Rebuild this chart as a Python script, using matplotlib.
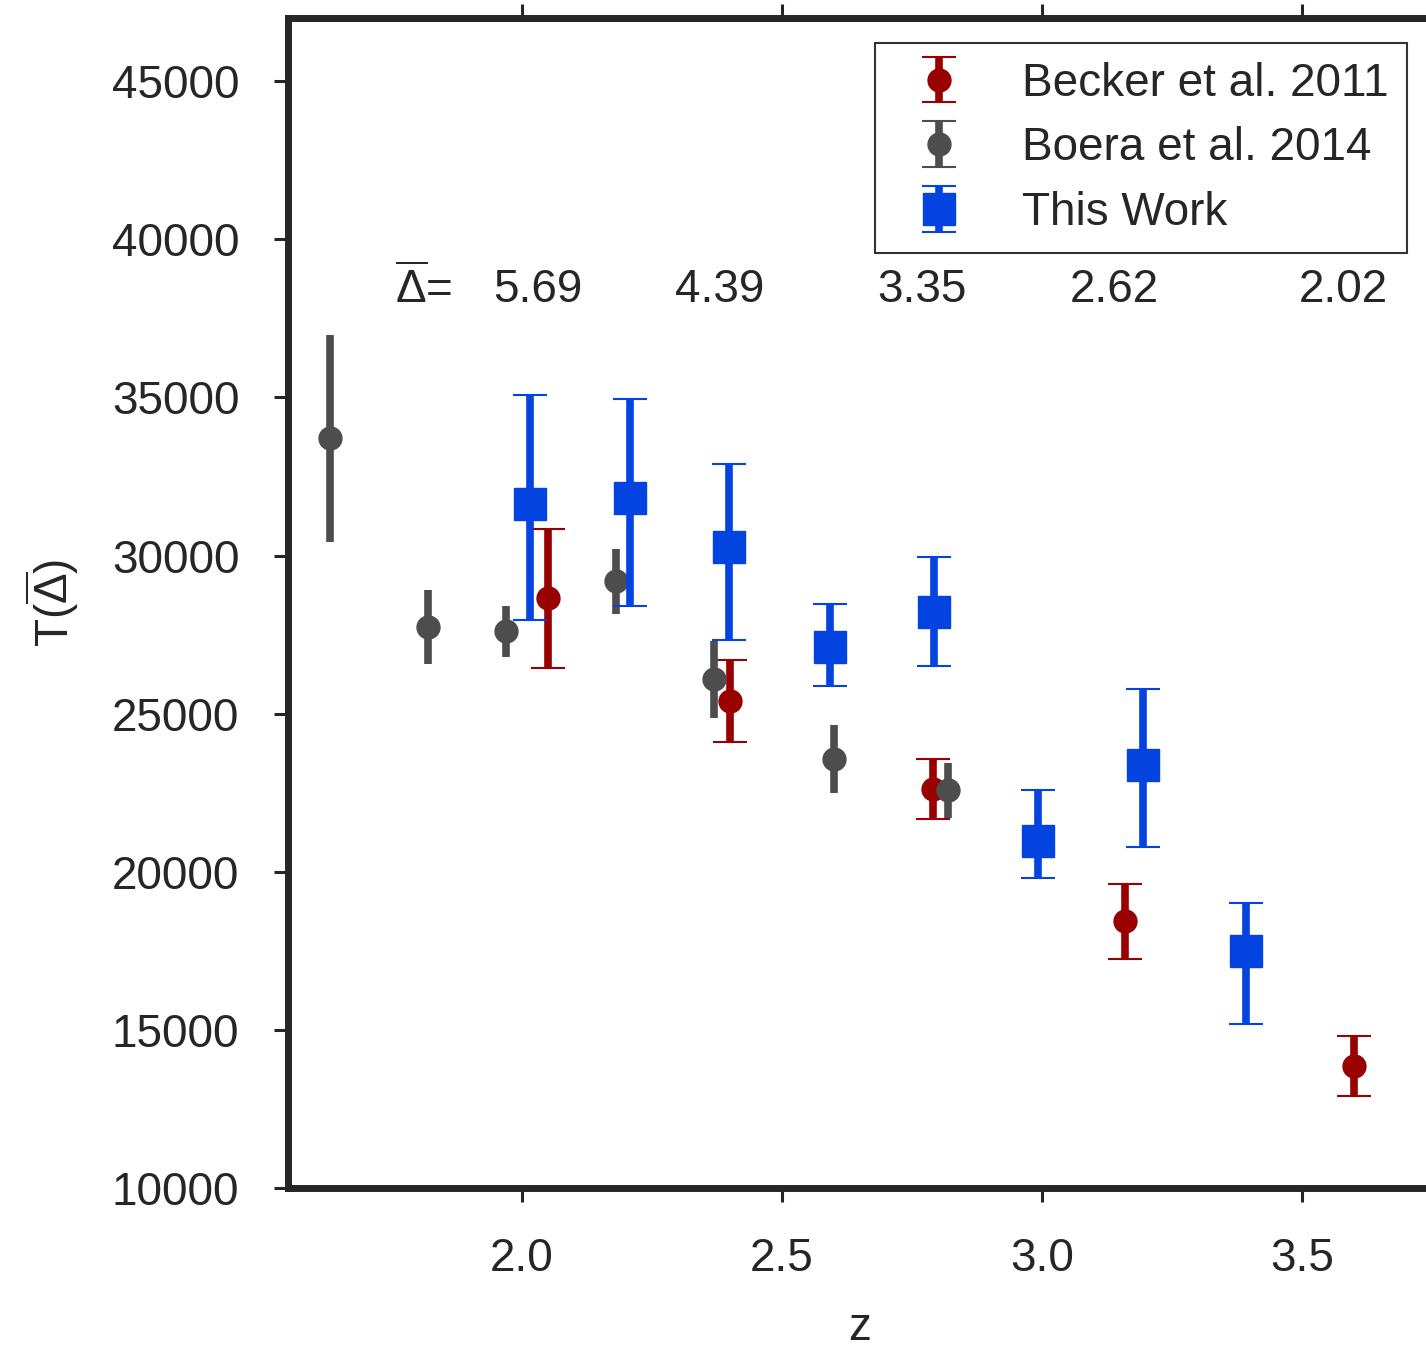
import numpy as np
import matplotlib
matplotlib.use("Agg")
import matplotlib.pyplot as plt

plt.rcParams['font.family'] = ['Liberation Sans', 'DejaVu Sans']
plt.rcParams['mathtext.fontset'] = 'custom'
plt.rcParams['mathtext.rm'] = 'Liberation Sans'
plt.rcParams['mathtext.it'] = 'Liberation Sans:italic'
plt.rcParams['mathtext.bf'] = 'Liberation Sans:bold'

# Becker et al. 2011
becker_z = [2.05, 2.40, 2.79, 3.16, 3.60]
becker_T = [28650, 25400, 22620, 18440, 13860]
becker_err = [2200, 1300, 950, 1185, 950]

# Boera et al. 2014
boera_z = [1.63, 1.82, 1.97, 2.18, 2.37, 2.60, 2.82]
boera_T = [33710, 27740, 27610, 29190, 26090, 23560, 22580]
boera_err = [3270, 1170, 810, 1030, 1220, 1075, 870]

# This work
work_z = [2.015, 2.208, 2.399, 2.593, 2.792, 2.992, 3.195, 3.393]
work_T = [31630, 31820, 30270, 27100, 28210, 20970, 23370, 17490]
work_err_lo = [3670, 3410, 2940, 1230, 1710, 1170, 2590, 2310]
work_err_hi = [3440, 3130, 2620, 1360, 1740, 1610, 2400, 1520]

# mean overdensity of each redshift bin
delta_labels = ['5.69', '4.39', '3.35', '2.62', '2.02']
delta_z = [2.03, 2.38, 2.77, 3.14, 3.58]

RED = '#990000'
GRAY = '#4d4d4d'
BLUE = '#0343df'
INK = '#262626'
FS = 33

fig = plt.figure(figsize=(14.26, 13.47), dpi=100)
ax = fig.add_axes([288 / 1426, 159 / 1347, 1144 / 1426, 1170 / 1347])

ax.errorbar(becker_z, becker_T, yerr=becker_err, fmt='o', color=RED,
            ms=16.5, elinewidth=5.5, capsize=12.5, capthick=1.5,
            label='Becker et al. 2011', zorder=3)
ax.errorbar(boera_z, boera_T, yerr=boera_err, fmt='o', color=GRAY,
            ms=16.5, elinewidth=5.5, capsize=0, zorder=4)
# legend entry for Boera et al. drawn with caps
ax.errorbar([np.nan], [np.nan], yerr=[1.0], fmt='o', color=GRAY,
            ms=16.5, elinewidth=5.5, capsize=12.5, capthick=1.5,
            label='Boera et al. 2014')
ax.errorbar(work_z, work_T, yerr=[work_err_lo, work_err_hi], fmt='s',
            color=BLUE, ms=23.5, elinewidth=5.5, capsize=12.5, capthick=1.5,
            label='This Work', zorder=5)

ax.text(1.81, 38400, r'$\overline{\Delta}$=', fontsize=FS, color=INK,
        ha='center', va='center')
for zc, lab in zip(delta_z, delta_labels):
    ax.text(zc, 38400, lab, fontsize=FS, color=INK, ha='center', va='center')

ax.set_xlim(1.55, 3.75)
ax.set_ylim(10000, 47000)
ax.set_xticks([2.0, 2.5, 3.0, 3.5])
ax.set_xticklabels(['2.0', '2.5', '3.0', '3.5'])
ax.set_yticks([10000, 15000, 20000, 25000, 30000, 35000, 40000, 45000])
ax.set_yticklabels(['10000', '15000', '20000', '25000', '30000', '35000',
                    '40000', '45000'])

for s in ax.spines.values():
    s.set_linewidth(5)
    s.set_color(INK)
ax.tick_params(axis='both', direction='out', length=10, width=2.2,
               color=INK, labelcolor=INK, labelsize=FS, pad=25)
ax.tick_params(axis='x', top=True, labeltop=False)

ax.set_xlabel('z', fontsize=FS, color=INK, labelpad=18)
ax.set_ylabel(r'T($\overline{\Delta}$)', fontsize=FS, color=INK, labelpad=22)

leg = ax.legend(loc='upper right', fontsize=FS, frameon=True, fancybox=False,
                framealpha=1, borderaxespad=0.55, labelspacing=0.45,
                borderpad=0.4)
leg.get_frame().set_edgecolor('#333333')
leg.get_frame().set_linewidth(1.5)
for t in leg.get_texts():
    t.set_color(INK)

fig.savefig('out.png', dpi=100)
